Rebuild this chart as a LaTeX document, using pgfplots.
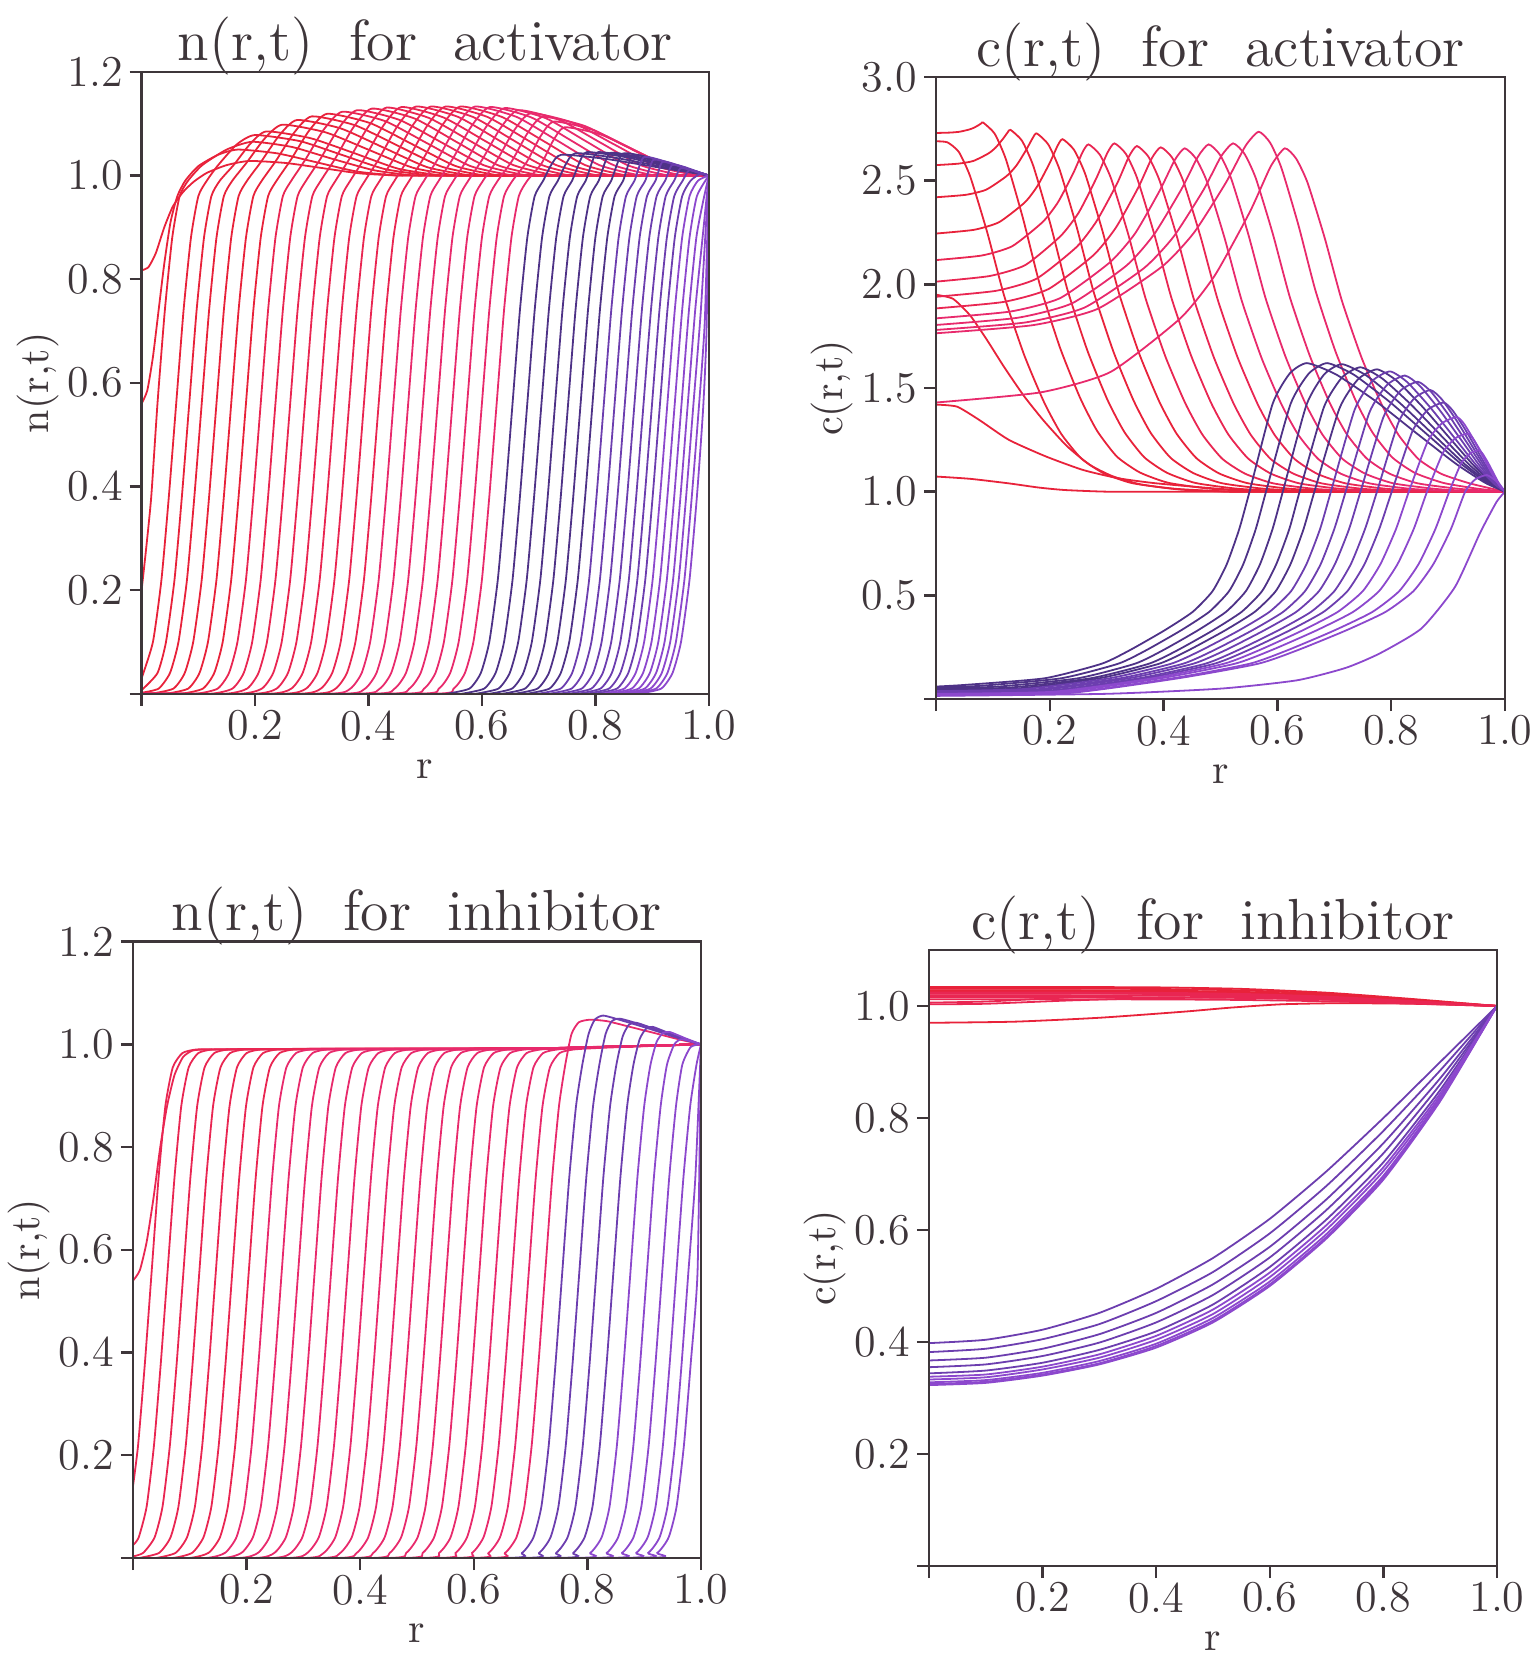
\documentclass[border=0pt]{standalone}
\usepackage{fontspec}
\usepackage{pgfplots}
\pgfplotsset{compat=1.18}
\definecolor{fr}{RGB}{62,54,58}
\definecolor{r1}{RGB}{232,34,58}
\definecolor{r2}{RGB}{233,38,82}
\definecolor{r3}{RGB}{232,42,108}
\definecolor{p1}{RGB}{78,50,135}
\definecolor{p2}{RGB}{108,62,175}
\definecolor{p3}{RGB}{140,72,205}
\newcommand\cv[1]{\addplot[#1] coordinates}
\pgfplotsset{
  panel/.style={
    scale only axis, anchor=south west,
    xmin=0, xmax=1,
    axis line style={fr, line width=0.6pt},
    every tick/.style={fr, line width=0.6pt},
    tick align=outside, major tick length=3pt,
    xtick pos=left, ytick pos=left,
    xtick={0,0.2,0.4,0.6,0.8,1},
    xticklabels={,0.2,0.4,0.6,0.8,1.0},
    tick label style={font=\fontsize{11}{13}\selectfont, text=fr},
    xticklabel style={yshift=2.4pt},
    yticklabel style={xshift=1.8pt},
    axis on top,
    every axis plot/.append style={line width=0.45pt, smooth, tension=0.35},
    title style={font=\fontsize{14.5}{16}\selectfont\addfontfeatures{LetterSpace=7.5}, text=fr, at={(0.5,1)}, anchor=base, yshift=-3.25pt, inner sep=0pt},
    every axis x label/.style={at={([yshift=-18.75pt]axis description cs:0.5,0)}, anchor=center, font=\fontsize{10.5}{12}\selectfont, text=fr},
    every axis y label/.style={at={([xshift=-26pt]axis description cs:0,0.5)}, anchor=center, rotate=90, font=\fontsize{10.5}{12}\selectfont, text=fr},
  },
}
\begin{document}
\begin{tikzpicture}
\path[use as bounding box] (0pt,0pt) rectangle (383.25pt,413.25pt);
%================ TL: n(r,t) activator
\begin{axis}[panel, at={(35.4pt,239.8pt)}, width=141.8pt, height=155.5pt,
  ymin=0, ymax=1.2, ytick={0,0.2,0.4,0.6,0.8,1.0,1.2}, yticklabels={,0.2,0.4,0.6,0.8,1.0,1.2},
  title={n(r,t)\hspace{9pt}for\hspace{9pt}activator}, xlabel={r}, ylabel={n(r,t)}]
\cv{r1}{(0,0.817)(0.012,0.823)(0.025,0.85)(0.04,0.9)(0.055,0.94)(0.073,0.968)(0.092,0.988)(0.115,1.005)(0.15,1.02)(0.19,1.028)(0.255,1.024)(0.32,1.014)(0.385,1.004)(0.45,1)(0.5,1)(1,1)};
\cv{r1}{(0,0.56)(0.01,0.585)(0.02,0.65)(0.03,0.74)(0.04,0.83)(0.051,0.91)(0.063,0.96)(0.077,0.99)(0.1,1.018)(0.135,1.04)(0.17,1.05)(0.24,1.0425)(0.31,1.025)(0.38,1.0075)(0.45,1)(0.5,1)(1,1)};
\cv{r1}{(0,0.2)(0.008,0.28)(0.017,0.38)(0.028,0.56)(0.041,0.74)(0.054,0.88)(0.067,0.96)(0.082,0.99)(0.107,1.02)(0.15,1.05)(0.195,1.065)(0.265,1.055)(0.335,1.0325)(0.41,1.01)(0.48,1)(0.53,1)(1,1)};
\cv{r1}{(0,0.03)(0.02,0.1)(0.035,0.22)(0.048,0.38)(0.061,0.56)(0.074,0.74)(0.087,0.88)(0.1,0.96)(0.115,0.99)(0.135,1.02)(0.168,1.06)(0.2,1.078)(0.28,1.066)(0.355,1.039)(0.43,1.012)(0.51,1)(0.56,1)(1,1)};
\cv{r1}{(0,0.007)(0.028,0.04)(0.043,0.1)(0.058,0.22)(0.071,0.38)(0.084,0.56)(0.097,0.74)(0.11,0.88)(0.123,0.96)(0.138,0.99)(0.163,1.021)(0.1915,1.061)(0.22,1.085)(0.2975,1.072)(0.375,1.043)(0.4525,1.013)(0.53,1)(0.58,1)(1,1)};
\cv{r1}{(0,0.002)(0.03,0.01)(0.05,0.04)(0.065,0.1)(0.08,0.22)(0.093,0.38)(0.106,0.56)(0.119,0.74)(0.132,0.88)(0.145,0.96)(0.16,0.99)(0.185,1.0245)(0.2165,1.0706)(0.248,1.098)(0.325,1.083)(0.4015,1.049)(0.478,1.015)(0.555,1)(0.605,1)(1,1)};
\cv{r1}{(0,0)(0.016,0)(0.056,0.01)(0.076,0.04)(0.091,0.1)(0.106,0.22)(0.119,0.38)(0.132,0.56)(0.145,0.74)(0.158,0.88)(0.171,0.96)(0.186,0.99)(0.211,1.027)(0.2425,1.077)(0.274,1.107)(0.3505,1.091)(0.427,1.0535)(0.5035,1.016)(0.58,1)(0.63,1)(1,1)};
\cv{r1}{(0,0)(0.042,0)(0.082,0.01)(0.102,0.04)(0.117,0.1)(0.132,0.22)(0.145,0.38)(0.158,0.56)(0.171,0.74)(0.184,0.88)(0.197,0.96)(0.212,0.99)(0.237,1.0285)(0.2685,1.082)(0.3,1.114)(0.376,1.097)(0.4525,1.057)(0.529,1.017)(0.605,1)(0.655,1)(1,1)};
\cv{r1}{(0,0)(0.068,0)(0.108,0.01)(0.128,0.04)(0.143,0.1)(0.158,0.22)(0.171,0.38)(0.184,0.56)(0.197,0.74)(0.21,0.88)(0.223,0.96)(0.238,0.99)(0.263,1.03)(0.295,1.086)(0.327,1.119)(0.403,1.101)(0.4785,1.0595)(0.554,1.018)(0.63,1)(0.68,1)(1,1)};
\cv{r2}{(0,0)(0.094,0)(0.134,0.01)(0.154,0.04)(0.169,0.1)(0.184,0.22)(0.197,0.38)(0.21,0.56)(0.223,0.74)(0.236,0.88)(0.249,0.96)(0.264,0.99)(0.289,1.031)(0.3215,1.089)(0.354,1.123)(0.429,1.105)(0.5045,1.0615)(0.58,1.018)(0.655,1)(0.705,1)(1,1)};
\cv{r2}{(0,0)(0.12,0)(0.16,0.01)(0.18,0.04)(0.195,0.1)(0.21,0.22)(0.223,0.38)(0.236,0.56)(0.249,0.74)(0.262,0.88)(0.275,0.96)(0.29,0.99)(0.315,1.0315)(0.3475,1.091)(0.38,1.126)(0.455,1.107)(0.53,1.063)(0.605,1.019)(0.68,1)(0.73,1)(1,1)};
\cv{r2}{(0,0)(0.146,0)(0.186,0.01)(0.206,0.04)(0.221,0.1)(0.236,0.22)(0.249,0.38)(0.262,0.56)(0.275,0.74)(0.288,0.88)(0.301,0.96)(0.316,0.99)(0.341,1.032)(0.3735,1.093)(0.406,1.129)(0.481,1.11)(0.5555,1.0645)(0.63,1.019)(0.705,1)(0.755,1)(1,1)};
\cv{r2}{(0,0)(0.172,0)(0.212,0.01)(0.232,0.04)(0.247,0.1)(0.262,0.22)(0.275,0.38)(0.288,0.56)(0.301,0.74)(0.314,0.88)(0.327,0.96)(0.342,0.99)(0.367,1.033)(0.3995,1.094)(0.432,1.131)(0.5065,1.111)(0.581,1.0655)(0.6555,1.02)(0.73,1)(0.78,1)(1,1)};
\cv{r2}{(0,0)(0.198,0)(0.238,0.01)(0.258,0.04)(0.273,0.1)(0.288,0.22)(0.301,0.38)(0.314,0.56)(0.327,0.74)(0.34,0.88)(0.353,0.96)(0.368,0.99)(0.393,1.033)(0.4255,1.095)(0.458,1.132)(0.532,1.112)(0.6065,1.066)(0.681,1.02)(0.755,1)(0.805,1)(1,1)};
\cv{r2}{(0,0)(0.224,0)(0.264,0.01)(0.284,0.04)(0.299,0.1)(0.314,0.22)(0.327,0.38)(0.34,0.56)(0.353,0.74)(0.366,0.88)(0.379,0.96)(0.394,0.99)(0.419,1.033)(0.4515,1.096)(0.484,1.133)(0.558,1.113)(0.632,1.0665)(0.706,1.02)(0.78,1)(0.83,1)(1,1)};
\cv{r2}{(0,0)(0.25,0)(0.29,0.01)(0.31,0.04)(0.325,0.1)(0.34,0.22)(0.353,0.38)(0.366,0.56)(0.379,0.74)(0.392,0.88)(0.405,0.96)(0.42,0.99)(0.445,1.033)(0.4775,1.096)(0.51,1.133)(0.584,1.113)(0.6575,1.0665)(0.731,1.02)(0.805,1)(0.855,1)(1,1)};
\cv{r2}{(0,0)(0.276,0)(0.316,0.01)(0.336,0.04)(0.351,0.1)(0.366,0.22)(0.379,0.38)(0.392,0.56)(0.405,0.74)(0.418,0.88)(0.431,0.96)(0.446,0.99)(0.471,1.033)(0.5035,1.096)(0.536,1.133)(0.6095,1.113)(0.683,1.0665)(0.7565,1.02)(0.83,1)(0.88,1)(1,1)};
\cv{r2}{(0,0)(0.302,0)(0.342,0.01)(0.362,0.04)(0.377,0.1)(0.392,0.22)(0.405,0.38)(0.418,0.56)(0.431,0.74)(0.444,0.88)(0.457,0.96)(0.472,0.99)(0.497,1.033)(0.5295,1.096)(0.562,1.133)(0.635,1.113)(0.7085,1.0665)(0.782,1.02)(0.855,1)(0.905,1)(1,1)};
\cv{r3}{(0,0)(0.328,0)(0.368,0.01)(0.388,0.04)(0.403,0.1)(0.418,0.22)(0.431,0.38)(0.444,0.56)(0.457,0.74)(0.47,0.88)(0.483,0.96)(0.498,0.99)(0.523,1.033)(0.5555,1.096)(0.588,1.133)(0.661,1.113)(0.734,1.0665)(0.807,1.02)(0.88,1)(0.93,1)(1,1)};
\cv{r3}{(0,0)(0.354,0)(0.394,0.01)(0.414,0.04)(0.429,0.1)(0.444,0.22)(0.457,0.38)(0.47,0.56)(0.483,0.74)(0.496,0.88)(0.509,0.96)(0.524,0.99)(0.549,1.033)(0.5815,1.095)(0.614,1.132)(0.687,1.112)(0.7595,1.066)(0.832,1.02)(0.905,1)(0.955,1)(1,1)};
\cv{r3}{(0,0)(0.38,0)(0.42,0.01)(0.44,0.04)(0.455,0.1)(0.47,0.22)(0.483,0.38)(0.496,0.56)(0.509,0.74)(0.522,0.88)(0.535,0.96)(0.55,0.99)(0.575,1.0325)(0.6075,1.094)(0.64,1.13)(0.7125,1.1105)(0.785,1.065)(0.8575,1.0195)(0.93,1)(1,1)};
\cv{r3}{(0,0)(0.406,0)(0.446,0.01)(0.466,0.04)(0.481,0.1)(0.496,0.22)(0.509,0.38)(0.522,0.56)(0.535,0.74)(0.548,0.88)(0.561,0.96)(0.576,0.99)(0.601,1.0315)(0.6325,1.091)(0.664,1.126)(0.737,1.107)(0.8095,1.063)(0.882,1.019)(0.955,1)(1,1)};
\cv{r3}{(0,0)(0.432,0)(0.472,0.01)(0.492,0.04)(0.507,0.1)(0.522,0.22)(0.535,0.38)(0.548,0.56)(0.561,0.74)(0.574,0.88)(0.587,0.96)(0.602,0.99)(0.627,1.03)(0.6565,1.0865)(0.686,1.12)(0.7595,1.102)(0.833,1.06)(0.9065,1.018)(0.98,1)(1,1)};
\cv{r3}{(0,0)(0.458,0)(0.498,0.01)(0.518,0.04)(0.533,0.1)(0.548,0.22)(0.561,0.38)(0.574,0.56)(0.587,0.74)(0.6,0.88)(0.613,0.96)(0.628,0.99)(0.653,1.028)(0.68,1.081)(0.707,1.113)(0.78,1.096)(0.8535,1.0565)(0.927,1.017)(1,1)};
\cv{r3}{(0,0)(0.484,0)(0.524,0.01)(0.544,0.04)(0.559,0.1)(0.574,0.22)(0.587,0.38)(0.6,0.56)(0.613,0.74)(0.626,0.88)(0.639,0.96)(0.654,0.99)(0.679,1.026)(0.703,1.075)(0.727,1.104)(0.795,1.088)(0.8635,1.052)(0.932,1.016)(1,1)};
\cv{r3}{(0,0)(0.51,0)(0.55,0.01)(0.57,0.04)(0.585,0.1)(0.6,0.22)(0.613,0.38)(0.626,0.56)(0.639,0.74)(0.652,0.88)(0.665,0.96)(0.68,0.99)(0.705,1.023)(0.7255,1.067)(0.746,1.093)(0.8095,1.079)(0.873,1.0465)(0.9365,1.014)(1,1)};
% purple
\cv{p1}{(0.538,0)(0.578,0.01)(0.598,0.04)(0.613,0.1)(0.628,0.22)(0.641,0.38)(0.654,0.56)(0.667,0.74)(0.68,0.88)(0.693,0.96)(0.708,0.99)(0.722,1.02)(0.74,1.04)(0.818,1.032)(0.909,1.016)(1,1)};
\cv{p1}{(0.564,0)(0.604,0.01)(0.624,0.04)(0.639,0.1)(0.654,0.22)(0.667,0.38)(0.68,0.56)(0.693,0.74)(0.706,0.88)(0.719,0.96)(0.734,0.99)(0.748,1.022)(0.765,1.043)(0.8355,1.034)(0.917,1.017)(1,1)};
\cv{p1}{(0.589,0)(0.629,0.01)(0.649,0.04)(0.664,0.1)(0.679,0.22)(0.692,0.38)(0.705,0.56)(0.718,0.74)(0.731,0.88)(0.744,0.96)(0.759,0.99)(0.772,1.025)(0.785,1.045)(0.85,1.036)(0.925,1.018)(1,1)};
\cv{p1}{(0.613,0)(0.653,0.01)(0.673,0.04)(0.688,0.1)(0.703,0.22)(0.716,0.38)(0.729,0.56)(0.742,0.74)(0.755,0.88)(0.768,0.96)(0.783,0.99)(0.794,1.025)(0.805,1.045)(0.8635,1.036)(0.932,1.018)(1,1)};
\cv{p1}{(0.636,0)(0.676,0.01)(0.696,0.04)(0.711,0.1)(0.726,0.22)(0.739,0.38)(0.752,0.56)(0.765,0.74)(0.778,0.88)(0.791,0.96)(0.806,0.99)(0.817,1.025)(0.828,1.044)(0.8795,1.035)(0.94,1.018)(1,1)};
\cv{p1}{(0.658,0)(0.698,0.01)(0.718,0.04)(0.733,0.1)(0.748,0.22)(0.761,0.38)(0.774,0.56)(0.787,0.74)(0.8,0.88)(0.813,0.96)(0.828,0.99)(0.848,1.042)(0.895,1.034)(0.947,1.017)(1,1)};
\cv{p1}{(0.679,0)(0.719,0.01)(0.739,0.04)(0.754,0.1)(0.769,0.22)(0.782,0.38)(0.795,0.56)(0.808,0.74)(0.821,0.88)(0.834,0.96)(0.849,0.99)(0.866,1.039)(0.906,1.031)(0.953,1.016)(1,1)};
\cv{p2}{(0.699,0)(0.739,0.01)(0.759,0.04)(0.774,0.1)(0.789,0.22)(0.802,0.38)(0.815,0.56)(0.828,0.74)(0.841,0.88)(0.854,0.96)(0.869,0.99)(0.885,1.035)(0.92,1.028)(0.96,1.014)(1,1)};
\cv{p2}{(0.718,0)(0.758,0.01)(0.778,0.04)(0.793,0.1)(0.808,0.22)(0.821,0.38)(0.834,0.56)(0.847,0.74)(0.86,0.88)(0.873,0.96)(0.888,0.99)(0.902,1.03)(0.93,1.024)(0.965,1.012)(1,1)};
\cv{p2}{(0.736,0)(0.776,0.01)(0.796,0.04)(0.811,0.1)(0.826,0.22)(0.839,0.38)(0.852,0.56)(0.865,0.74)(0.878,0.88)(0.891,0.96)(0.906,0.99)(0.918,1.026)(0.942,1.021)(0.971,1.01)(1,1)};
\cv{p2}{(0.753,0)(0.793,0.01)(0.813,0.04)(0.828,0.1)(0.843,0.22)(0.856,0.38)(0.869,0.56)(0.882,0.74)(0.895,0.88)(0.908,0.96)(0.923,0.99)(0.935,1.02)(0.955,1.017)(0.976,1.009)(1,1)};
\cv{p2}{(0.769,0)(0.809,0.01)(0.829,0.04)(0.844,0.1)(0.859,0.22)(0.872,0.38)(0.885,0.56)(0.898,0.74)(0.911,0.88)(0.924,0.96)(0.939,0.99)(0.95,1.014)(0.972,1.009)(1,1)};
\cv{p2}{(0.784,0)(0.824,0.01)(0.844,0.04)(0.859,0.1)(0.874,0.22)(0.887,0.38)(0.9,0.56)(0.913,0.74)(0.926,0.88)(0.939,0.96)(0.954,0.99)(0.965,1.01)(0.982,1.005)(1,1)};
\cv{p2}{(0.798,0)(0.838,0.01)(0.858,0.04)(0.873,0.1)(0.888,0.22)(0.901,0.38)(0.914,0.56)(0.927,0.74)(0.94,0.88)(0.953,0.96)(0.968,0.99)(0.985,1.003)(1,1)};
\cv{p3}{(0.811,0)(0.851,0.01)(0.871,0.04)(0.886,0.1)(0.901,0.22)(0.914,0.38)(0.927,0.56)(0.94,0.74)(0.953,0.88)(0.966,0.96)(0.981,0.99)(1,1)};
\cv{p3}{(0.824,0)(0.864,0.01)(0.884,0.04)(0.899,0.1)(0.914,0.22)(0.927,0.38)(0.94,0.56)(0.953,0.74)(0.966,0.88)(0.979,0.96)(1,1)};
\cv{p3}{(0.836,0)(0.876,0.01)(0.896,0.04)(0.911,0.1)(0.926,0.22)(0.939,0.38)(0.952,0.56)(0.965,0.74)(0.978,0.88)(0.99,0.95)(1,1)};
\cv{p3}{(0.847,0)(0.887,0.01)(0.907,0.04)(0.922,0.1)(0.937,0.22)(0.95,0.38)(0.963,0.56)(0.976,0.74)(0.989,0.88)(1,1)};
\cv{p3}{(0.857,0)(0.897,0.01)(0.917,0.04)(0.932,0.1)(0.947,0.22)(0.96,0.38)(0.973,0.56)(0.986,0.74)(1,1)};
\cv{p3}{(0.867,0)(0.907,0.01)(0.927,0.04)(0.942,0.1)(0.957,0.22)(0.97,0.38)(0.983,0.56)(0.993,0.72)(1,1)};
\cv{p3}{(0.876,0)(0.916,0.01)(0.936,0.04)(0.951,0.1)(0.966,0.22)(0.979,0.38)(0.99,0.55)(0.996,0.7)(1,1)};
\end{axis}
%================ TR: c(r,t) activator
\begin{axis}[panel, at={(234pt,238.5pt)}, width=142.25pt, height=155.5pt,
  ymin=0, ymax=3, ytick={0,0.5,1,1.5,2,2.5,3}, yticklabels={,0.5,1.0,1.5,2.0,2.5,3.0},
  title={c(r,t)\hspace{9pt}for\hspace{9pt}activator}, xlabel={r}, ylabel={c(r,t)}]
\cv{r1}{(0,1.073)(0.06,1.062)(0.128,1.04)(0.18,1.02)(0.226,1.008)(0.3,1)(0.4,1)(1,1)};
\cv{r1}{(0,1.42)(0.037,1.41)(0.076,1.346)(0.128,1.25)(0.193,1.17)(0.258,1.105)(0.32,1.065)(0.388,1.04)(0.518,1.01)(0.65,1)(0.75,1)(1,1)};
\cv{r1}{(0,1.95)(0.03,1.93)(0.06,1.85)(0.09,1.73)(0.12,1.6)(0.155,1.46)(0.19,1.34)(0.23,1.22)(0.27,1.13)(0.31,1.075)(0.36,1.035)(0.43,1.01)(0.52,1)(0.6,1)(1,1)};
\cv{r1}{(0,2.69)(0.02,2.685)(0.04,2.639)(0.06,2.521)(0.09,2.251)(0.12,1.943)(0.155,1.659)(0.19,1.431)(0.22,1.279)(0.255,1.161)(0.295,1.088)(0.345,1.041)(0.42,1.014)(0.52,1)(0.6,1)(1,1)};
\cv{r1}{(0,2.73)(0.025,2.732)(0.0415,2.736)(0.058,2.7465)(0.0664,2.755)(0.0747,2.7675)(0.0797,2.7765)(0.083,2.78)(0.103,2.727)(0.123,2.602)(0.153,2.317)(0.183,1.993)(0.218,1.694)(0.253,1.454)(0.283,1.294)(0.318,1.169)(0.358,1.093)(0.408,1.043)(0.483,1.014)(0.583,1)(0.65,1)(1,1)};
\cv{r1}{(0,2.575)(0.039,2.582)(0.0655,2.595)(0.092,2.631)(0.105,2.66)(0.118,2.703)(0.126,2.733)(0.131,2.745)(0.151,2.693)(0.171,2.571)(0.201,2.291)(0.231,1.974)(0.266,1.681)(0.301,1.445)(0.331,1.288)(0.366,1.166)(0.406,1.091)(0.456,1.042)(0.531,1.014)(0.631,1)(0.7,1)(1,1)};
\cv{r1}{(0,2.42)(0.053,2.432)(0.0885,2.457)(0.124,2.522)(0.1416,2.574)(0.159,2.651)(0.17,2.706)(0.177,2.728)(0.197,2.676)(0.217,2.555)(0.247,2.279)(0.277,1.964)(0.312,1.674)(0.347,1.441)(0.377,1.285)(0.412,1.164)(0.452,1.09)(0.502,1.041)(0.577,1.014)(0.677,1)(0.75,1)(1,1)};
\cv{r1}{(0,2.245)(0.0668,2.263)(0.111,2.30)(0.156,2.395)(0.178,2.473)(0.2,2.586)(0.2136,2.668)(0.2225,2.70)(0.2425,2.649)(0.2625,2.53)(0.2925,2.258)(0.3225,1.949)(0.3575,1.663)(0.3925,1.434)(0.4225,1.281)(0.4575,1.162)(0.4975,1.088)(0.5475,1.041)(0.6225,1.014)(0.7225,1)(0.79,1)(1,1)};
\cv{r2}{(0,2.117)(0.0804,2.139)(0.134,2.184)(0.1876,2.301)(0.2144,2.396)(0.2412,2.536)(0.2573,2.636)(0.268,2.675)(0.288,2.625)(0.308,2.508)(0.338,2.24)(0.368,1.935)(0.403,1.653)(0.438,1.427)(0.468,1.276)(0.503,1.159)(0.543,1.087)(0.593,1.04)(0.668,1.013)(0.768,1)(0.83,1)(1,1)};
\cv{r2}{(0,2.013)(0.094,2.04)(0.157,2.093)(0.219,2.233)(0.251,2.347)(0.282,2.513)(0.301,2.633)(0.3135,2.68)(0.3335,2.63)(0.3535,2.512)(0.3835,2.243)(0.4135,1.937)(0.4485,1.655)(0.4835,1.428)(0.5135,1.277)(0.5485,1.16)(0.5885,1.087)(0.6385,1.04)(0.7135,1.013)(0.8135,1)(0.88,1)(1,1)};
\cv{r2}{(0,1.94)(0.106,1.969)(0.1765,2.027)(0.247,2.18)(0.282,2.304)(0.318,2.485)(0.339,2.616)(0.353,2.667)(0.373,2.617)(0.393,2.5)(0.423,2.234)(0.453,1.93)(0.488,1.65)(0.523,1.425)(0.553,1.275)(0.588,1.158)(0.628,1.087)(0.678,1.04)(0.753,1.013)(0.853,1)(0.92,1)(1,1)};
\cv{r2}{(0,1.884)(0.1185,1.915)(0.1975,1.977)(0.2765,2.14)(0.316,2.273)(0.3555,2.467)(0.379,2.607)(0.395,2.661)(0.415,2.611)(0.435,2.495)(0.465,2.229)(0.495,1.927)(0.53,1.648)(0.565,1.424)(0.595,1.274)(0.63,1.158)(0.67,1.086)(0.72,1.04)(0.795,1.013)(0.895,1)(1,1)};
\cv{r3}{(0,1.836)(0.131,1.869)(0.2185,1.934)(0.306,2.107)(0.35,2.246)(0.393,2.451)(0.4195,2.599)(0.437,2.656)(0.457,2.606)(0.477,2.49)(0.507,2.225)(0.537,1.924)(0.572,1.646)(0.607,1.422)(0.637,1.273)(0.672,1.157)(0.712,1.086)(0.762,1.04)(0.837,1.013)(0.937,1)(1,1)};
\cv{r3}{(0,1.804)(0.144,1.839)(0.2395,1.909)(0.335,2.091)(0.383,2.24)(0.431,2.457)(0.46,2.614)(0.479,2.675)(0.499,2.625)(0.519,2.508)(0.549,2.24)(0.579,1.935)(0.614,1.653)(0.649,1.427)(0.679,1.276)(0.714,1.159)(0.754,1.087)(0.804,1.04)(0.879,1.013)(0.95,1.002)(1,1)};
\cv{r3}{(0,1.78)(0.1566,1.816)(0.261,1.888)(0.365,2.077)(0.4176,2.23)(0.47,2.455)(0.501,2.617)(0.522,2.68)(0.542,2.63)(0.562,2.512)(0.592,2.243)(0.622,1.937)(0.657,1.655)(0.692,1.428)(0.722,1.277)(0.757,1.16)(0.797,1.087)(0.847,1.04)(0.922,1.013)(1,1)};
\cv{r3}{(0,1.764)(0.17,1.803)(0.2835,1.881)(0.397,2.085)(0.4536,2.25)(0.51,2.493)(0.544,2.668)(0.567,2.736)(0.587,2.684)(0.607,2.562)(0.637,2.285)(0.667,1.969)(0.702,1.677)(0.737,1.443)(0.767,1.286)(0.802,1.165)(0.842,1.09)(0.892,1.042)(0.95,1.015)(1,1)};
\cv{r3}{(0,1.43)(0.184,1.479)(0.3065,1.577)(0.429,1.835)(0.49,2.043)(0.5517,2.35)(0.5885,2.57)(0.613,2.656)(0.633,2.606)(0.653,2.49)(0.683,2.225)(0.713,1.924)(0.748,1.646)(0.783,1.422)(0.813,1.273)(0.848,1.157)(0.888,1.086)(0.938,1.04)(1,1)};
% purple
\cv{p1}{(0,0.06)(0.051,0.068)(0.191,0.1)(0.291,0.17)(0.341,0.236)(0.401,0.33)(0.451,0.42)(0.486,0.52)(0.511,0.65)(0.533,0.82)(0.551,1.0)(0.5914,1.422)(0.6217,1.57)(0.652,1.62)(0.704,1.564)(0.774,1.434)(0.843,1.285)(0.913,1.136)(0.965,1.043)(1,1)};
\cv{p1}{(0,0.055)(0.08,0.064)(0.22,0.1)(0.32,0.17)(0.37,0.236)(0.43,0.33)(0.48,0.42)(0.515,0.52)(0.54,0.65)(0.562,0.82)(0.58,1.0)(0.623,1.422)(0.6553,1.57)(0.6875,1.62)(0.7344,1.564)(0.7969,1.434)(0.8594,1.285)(0.9219,1.136)(0.9688,1.043)(1,1)};
\cv{p1}{(0,0.05)(0.11,0.06)(0.2495,0.1)(0.3495,0.17)(0.3995,0.236)(0.4595,0.33)(0.5095,0.42)(0.5445,0.52)(0.5695,0.65)(0.5915,0.82)(0.6095,1.0)(0.651,1.418)(0.6823,1.566)(0.7135,1.615)(0.7565,1.56)(0.8138,1.431)(0.8711,1.283)(0.9284,1.135)(0.9714,1.043)(1,1)};
\cv{p1}{(0,0.045)(0.129,0.055)(0.272,0.1)(0.374,0.17)(0.425,0.236)(0.486,0.33)(0.537,0.42)(0.573,0.52)(0.598,0.65)(0.621,0.82)(0.639,1.0)(0.6818,1.408)(0.7139,1.552)(0.746,1.6)(0.7841,1.546)(0.8349,1.42)(0.8857,1.276)(0.9365,1.132)(0.9746,1.042)(1,1)};
\cv{p1}{(0,0.04)(0.14,0.05)(0.287,0.1)(0.392,0.17)(0.4445,0.236)(0.5075,0.33)(0.56,0.42)(0.597,0.52)(0.623,0.65)(0.646,0.82)(0.665,1.0)(0.709,1.401)(0.742,1.543)(0.775,1.59)(0.8088,1.537)(0.8538,1.413)(0.8988,1.271)(0.9438,1.13)(0.9775,1.041)(1,1)};
\cv{p2}{(0,0.038)(0.154,0.048)(0.305,0.1)(0.413,0.17)(0.467,0.236)(0.532,0.33)(0.586,0.42)(0.624,0.52)(0.651,0.65)(0.675,0.82)(0.694,1.0)(0.7356,1.394)(0.7668,1.534)(0.798,1.58)(0.8283,1.528)(0.8687,1.406)(0.9091,1.267)(0.9495,1.128)(0.9798,1.041)(1,1)};
\cv{p2}{(0,0.035)(0.17,0.045)(0.324,0.1)(0.434,0.17)(0.489,0.236)(0.555,0.33)(0.61,0.42)(0.6485,0.52)(0.676,0.65)(0.7,0.82)(0.72,1.0)(0.7616,1.381)(0.7928,1.515)(0.824,1.56)(0.8504,1.51)(0.8856,1.392)(0.9208,1.258)(0.956,1.123)(0.9824,1.039)(1,1)};
\cv{p2}{(0,0.033)(0.181,0.043)(0.339,0.1)(0.452,0.17)(0.509,0.236)(0.576,0.33)(0.633,0.42)(0.673,0.52)(0.701,0.65)(0.726,0.82)(0.746,1.0)(0.7864,1.36)(0.8167,1.488)(0.847,1.53)(0.87,1.482)(0.9006,1.371)(0.9312,1.244)(0.9618,1.117)(0.9847,1.037)(1,1)};
\cv{p2}{(0,0.03)(0.195,0.04)(0.357,0.1)(0.473,0.17)(0.531,0.236)(0.601,0.33)(0.659,0.42)(0.7,0.52)(0.729,0.65)(0.754,0.82)(0.775,1.0)(0.8126,1.333)(0.8408,1.451)(0.869,1.49)(0.8887,1.446)(0.9149,1.343)(0.9411,1.225)(0.9673,1.108)(0.9869,1.034)(1,1)};
\cv{p2}{(0,0.028)(0.201,0.038)(0.369,0.1)(0.489,0.17)(0.549,0.236)(0.621,0.33)(0.681,0.42)(0.723,0.52)(0.753,0.65)(0.779,0.82)(0.801,1.0)(0.8374,1.292)(0.8647,1.396)(0.892,1.43)(0.9082,1.391)(0.9298,1.301)(0.9514,1.198)(0.973,1.095)(0.9892,1.03)(1,1)};
\cv{p3}{(0,0.025)(0.206,0.035)(0.381,0.1)(0.506,0.17)(0.5685,0.236)(0.6435,0.33)(0.706,0.42)(0.75,0.52)(0.781,0.65)(0.8085,0.82)(0.831,1.0)(0.8646,1.245)(0.8898,1.331)(0.915,1.36)(0.9278,1.328)(0.9448,1.252)(0.9618,1.166)(0.9788,1.079)(0.9915,1.025)(1,1)};
\cv{p3}{(0,0.022)(0.213,0.032)(0.395,0.1)(0.525,0.17)(0.59,0.236)(0.668,0.33)(0.733,0.42)(0.7785,0.52)(0.811,0.65)(0.8396,0.82)(0.863,1.0)(0.8914,1.19)(0.9127,1.258)(0.934,1.28)(0.9439,1.255)(0.9571,1.196)(0.9703,1.129)(0.9835,1.062)(0.9934,1.02)(1,1)};
\cv{p3}{(0,0.02)(0.227,0.03)(0.416,0.1)(0.551,0.17)(0.6185,0.236)(0.6995,0.33)(0.767,0.42)(0.814,0.52)(0.848,0.65)(0.8777,0.82)(0.902,1.0)(0.9228,1.136)(0.9384,1.184)(0.954,1.2)(0.9609,1.182)(0.9701,1.14)(0.9793,1.092)(0.9885,1.044)(1,1)};
\cv{p3}{(0,0.018)(0.23,0.028)(0.426,0.1)(0.566,0.17)(0.636,0.236)(0.72,0.33)(0.79,0.42)(0.839,0.52)(0.874,0.65)(0.905,0.82)(0.93,1.0)(0.948,1.06)(0.968,1.08)(0.985,1.05)(1,1)};
\cv{p3}{(0,0.015)(0.3,0.025)(0.5,0.05)(0.634,0.09)(0.72,0.15)(0.78,0.22)(0.853,0.34)(0.912,0.54)(0.956,0.8)(0.985,0.95)(1,1)};
\end{axis}
%================ BL: n(r,t) inhibitor
\begin{axis}[panel, at={(33.25pt,23.75pt)}, width=142pt, height=154.1pt,
  ymin=0, ymax=1.2, ytick={0,0.2,0.4,0.6,0.8,1.0,1.2}, yticklabels={,0.2,0.4,0.6,0.8,1.0,1.2},
  title={n(r,t)\hspace{9pt}for\hspace{9pt}inhibitor}, xlabel={r}, ylabel={n(r,t)}]
\cv{r2}{(0,0.54)(0.012,0.56)(0.024,0.615)(0.036,0.7)(0.048,0.8)(0.06,0.88)(0.073,0.94)(0.088,0.975)(0.105,0.988)(0.13,0.99)(0.18,0.99)(0.26,0.991)(0.72,0.992)(0.86,0.996)(1,1)};
\cv{r2}{(0,0.14)(0.009,0.22)(0.021,0.38)(0.033,0.56)(0.045,0.74)(0.057,0.88)(0.07,0.955)(0.087,0.983)(0.112,0.99)(0.157,0.99)(0.227,0.991)(0.72,0.992)(0.86,0.996)(1,1)};
\cv{r2}{(0,0.025)(0.01,0.04)(0.024,0.1)(0.037,0.22)(0.049,0.38)(0.061,0.56)(0.073,0.74)(0.085,0.88)(0.098,0.955)(0.115,0.983)(0.14,0.99)(0.185,0.99)(0.255,0.991)(0.72,0.992)(0.86,0.996)(1,1)};
\cv{r2}{(0,0.003)(0.018,0.01)(0.038,0.04)(0.052,0.1)(0.065,0.22)(0.077,0.38)(0.089,0.56)(0.101,0.74)(0.113,0.88)(0.126,0.955)(0.143,0.983)(0.168,0.99)(0.213,0.99)(0.283,0.991)(0.72,0.992)(0.86,0.996)(1,1)};
\cv{r2}{(0,0)(0.011,0)(0.046,0.01)(0.066,0.04)(0.08,0.1)(0.093,0.22)(0.105,0.38)(0.117,0.56)(0.129,0.74)(0.141,0.88)(0.154,0.955)(0.171,0.983)(0.196,0.99)(0.241,0.99)(0.311,0.991)(0.72,0.992)(0.86,0.996)(1,1)};
\cv{r2}{(0,0)(0.04,0)(0.075,0.01)(0.095,0.04)(0.109,0.1)(0.122,0.22)(0.134,0.38)(0.146,0.56)(0.158,0.74)(0.17,0.88)(0.183,0.955)(0.2,0.983)(0.225,0.99)(0.27,0.99)(0.34,0.991)(0.72,0.992)(0.86,0.996)(1,1)};
\cv{r2}{(0,0)(0.069,0)(0.104,0.01)(0.124,0.04)(0.138,0.1)(0.151,0.22)(0.163,0.38)(0.175,0.56)(0.187,0.74)(0.199,0.88)(0.212,0.955)(0.229,0.983)(0.254,0.99)(0.299,0.99)(0.369,0.991)(0.72,0.992)(0.86,0.996)(1,1)};
\cv{r2}{(0,0)(0.098,0)(0.133,0.01)(0.153,0.04)(0.167,0.1)(0.18,0.22)(0.192,0.38)(0.204,0.56)(0.216,0.74)(0.228,0.88)(0.241,0.955)(0.258,0.983)(0.283,0.99)(0.328,0.99)(0.398,0.991)(0.72,0.992)(0.86,0.996)(1,1)};
\cv{r3}{(0,0)(0.127,0)(0.162,0.01)(0.182,0.04)(0.196,0.1)(0.209,0.22)(0.221,0.38)(0.233,0.56)(0.245,0.74)(0.257,0.88)(0.27,0.955)(0.287,0.983)(0.312,0.99)(0.357,0.99)(0.427,0.991)(0.72,0.992)(0.86,0.996)(1,1)};
\cv{r3}{(0,0)(0.156,0)(0.191,0.01)(0.211,0.04)(0.225,0.1)(0.238,0.22)(0.25,0.38)(0.262,0.56)(0.274,0.74)(0.286,0.88)(0.299,0.955)(0.316,0.983)(0.341,0.99)(0.386,0.99)(0.456,0.991)(0.72,0.992)(0.86,0.996)(1,1)};
\cv{r3}{(0,0)(0.185,0)(0.22,0.01)(0.24,0.04)(0.254,0.1)(0.267,0.22)(0.279,0.38)(0.291,0.56)(0.303,0.74)(0.315,0.88)(0.328,0.955)(0.345,0.983)(0.37,0.99)(0.415,0.99)(0.485,0.991)(0.72,0.992)(0.86,0.996)(1,1)};
\cv{r3}{(0,0)(0.214,0)(0.249,0.01)(0.269,0.04)(0.283,0.1)(0.296,0.22)(0.308,0.38)(0.32,0.56)(0.332,0.74)(0.344,0.88)(0.357,0.955)(0.374,0.983)(0.399,0.99)(0.444,0.99)(0.514,0.991)(0.72,0.992)(0.86,0.996)(1,1)};
\cv{r3}{(0,0)(0.243,0)(0.278,0.01)(0.298,0.04)(0.312,0.1)(0.325,0.22)(0.337,0.38)(0.349,0.56)(0.361,0.74)(0.373,0.88)(0.386,0.955)(0.403,0.983)(0.428,0.99)(0.473,0.99)(0.543,0.991)(0.72,0.992)(0.86,0.996)(1,1)};
\cv{r3}{(0,0)(0.272,0)(0.307,0.01)(0.327,0.04)(0.341,0.1)(0.354,0.22)(0.366,0.38)(0.378,0.56)(0.39,0.74)(0.402,0.88)(0.415,0.955)(0.432,0.983)(0.457,0.99)(0.502,0.99)(0.572,0.991)(0.72,0.992)(0.86,0.996)(1,1)};
\cv{r3}{(0,0)(0.301,0)(0.336,0.01)(0.356,0.04)(0.37,0.1)(0.383,0.22)(0.395,0.38)(0.407,0.56)(0.419,0.74)(0.431,0.88)(0.444,0.955)(0.461,0.983)(0.486,0.99)(0.531,0.99)(0.601,0.991)(0.72,0.992)(0.86,0.996)(1,1)};
\cv{r3}{(0,0)(0.33,0)(0.365,0.01)(0.385,0.04)(0.399,0.1)(0.412,0.22)(0.424,0.38)(0.436,0.56)(0.448,0.74)(0.46,0.88)(0.473,0.955)(0.49,0.983)(0.515,0.99)(0.56,0.99)(0.63,0.991)(0.72,0.992)(0.86,0.996)(1,1)};
\cv{r3}{(0,0)(0.359,0)(0.394,0.01)(0.414,0.04)(0.428,0.1)(0.441,0.22)(0.453,0.38)(0.465,0.56)(0.477,0.74)(0.489,0.88)(0.502,0.955)(0.519,0.983)(0.544,0.99)(0.589,0.99)(0.659,0.991)(0.75,0.993)(0.86,0.996)(1,1)};
\cv{r3}{(0,0)(0.388,0)(0.423,0.01)(0.443,0.04)(0.457,0.1)(0.47,0.22)(0.482,0.38)(0.494,0.56)(0.506,0.74)(0.518,0.88)(0.531,0.955)(0.548,0.983)(0.573,0.99)(0.618,0.99)(0.688,0.991)(0.78,0.994)(0.89,0.997)(1,1)};
\cv{r3}{(0,0)(0.417,0)(0.452,0.01)(0.472,0.04)(0.486,0.1)(0.499,0.22)(0.511,0.38)(0.523,0.56)(0.535,0.74)(0.547,0.88)(0.56,0.955)(0.577,0.983)(0.602,0.99)(0.647,0.99)(0.717,0.992)(0.81,0.995)(0.9,0.997)(1,1)};
\cv{r3}{(0,0)(0.446,0)(0.481,0.01)(0.501,0.04)(0.515,0.1)(0.528,0.22)(0.54,0.38)(0.552,0.56)(0.564,0.74)(0.576,0.88)(0.589,0.955)(0.606,0.983)(0.631,0.99)(0.676,0.99)(0.746,0.993)(0.83,0.995)(0.91,0.997)(1,1)};
\cv{r3}{(0,0)(0.475,0)(0.51,0.01)(0.53,0.04)(0.544,0.1)(0.557,0.22)(0.569,0.38)(0.581,0.56)(0.593,0.74)(0.605,0.88)(0.618,0.955)(0.635,0.983)(0.66,0.99)(0.705,0.991)(0.775,0.993)(0.86,0.996)(0.93,0.998)(1,1)};
\cv{r3}{(0,0)(0.504,0)(0.539,0.01)(0.559,0.04)(0.573,0.1)(0.586,0.22)(0.598,0.38)(0.61,0.56)(0.622,0.74)(0.634,0.88)(0.647,0.955)(0.664,0.983)(0.689,0.99)(0.734,0.992)(0.804,0.994)(0.88,0.996)(0.94,0.998)(1,1)};
\cv{r3}{(0,0)(0.533,0)(0.568,0.01)(0.588,0.04)(0.602,0.1)(0.615,0.22)(0.627,0.38)(0.639,0.56)(0.651,0.74)(0.663,0.88)(0.676,0.955)(0.693,0.983)(0.718,0.99)(0.763,0.993)(0.833,0.995)(0.91,0.997)(1,1)};
\cv{r3}{(0,0)(0.562,0)(0.597,0.01)(0.617,0.04)(0.631,0.1)(0.644,0.22)(0.656,0.38)(0.668,0.56)(0.68,0.74)(0.692,0.88)(0.705,0.955)(0.722,0.983)(0.747,0.99)(0.792,0.993)(0.862,0.996)(0.93,0.998)(1,1)};
\cv{r3}{(0,0)(0.591,0)(0.626,0.01)(0.646,0.04)(0.66,0.1)(0.673,0.22)(0.685,0.38)(0.697,0.56)(0.709,0.74)(0.721,0.88)(0.734,0.955)(0.751,0.983)(0.776,0.99)(0.821,0.993)(0.891,0.996)(0.95,0.998)(1,1)};
\cv{r3}{(0,0)(0.62,0)(0.655,0.01)(0.675,0.04)(0.689,0.1)(0.702,0.22)(0.714,0.38)(0.726,0.56)(0.738,0.74)(0.75,0.88)(0.761,0.96)(0.772,1.02)(0.785,1.043)(0.805,1.048)(0.835,1.045)(0.875,1.034)(0.918,1.022)(0.96,1.01)(1,1)};
\cv{p2}{(0,0)(0.65,0)(0.685,0.01)(0.705,0.04)(0.719,0.1)(0.732,0.22)(0.744,0.38)(0.756,0.56)(0.768,0.74)(0.78,0.88)(0.791,0.96)(0.802,1.02)(0.813,1.048)(0.828,1.056)(0.862,1.046)(0.91,1.03)(0.955,1.014)(1,1)};
\cv{p2}{(0,0)(0.68,0)(0.715,0.01)(0.735,0.04)(0.749,0.1)(0.762,0.22)(0.774,0.38)(0.786,0.56)(0.798,0.74)(0.81,0.88)(0.821,0.96)(0.832,1.02)(0.843,1.045)(0.857,1.05)(0.89,1.04)(0.93,1.025)(0.965,1.011)(1,1)};
\cv{p2}{(0,0)(0.71,0)(0.745,0.01)(0.765,0.04)(0.779,0.1)(0.792,0.22)(0.804,0.38)(0.816,0.56)(0.828,0.74)(0.84,0.88)(0.851,0.96)(0.862,1.015)(0.873,1.038)(0.886,1.042)(0.918,1.03)(0.957,1.015)(1,1)};
\cv{p2}{(0,0)(0.74,0)(0.775,0.01)(0.795,0.04)(0.809,0.1)(0.822,0.22)(0.834,0.38)(0.846,0.56)(0.858,0.74)(0.87,0.88)(0.881,0.96)(0.892,1.01)(0.903,1.03)(0.915,1.034)(0.943,1.022)(0.972,1.01)(1,1)};
\cv{p3}{(0,0)(0.77,0)(0.805,0.01)(0.825,0.04)(0.839,0.1)(0.852,0.22)(0.864,0.38)(0.876,0.56)(0.888,0.74)(0.9,0.88)(0.911,0.96)(0.922,1.005)(0.933,1.022)(0.945,1.024)(0.972,1.012)(1,1)};
\cv{p3}{(0,0)(0.799,0)(0.834,0.01)(0.854,0.04)(0.868,0.1)(0.881,0.22)(0.893,0.38)(0.905,0.56)(0.917,0.74)(0.929,0.88)(0.94,0.96)(0.953,1.0)(0.965,1.01)(0.982,1.006)(1,1)};
\cv{p3}{(0,0)(0.826,0)(0.861,0.01)(0.881,0.04)(0.895,0.1)(0.908,0.22)(0.92,0.38)(0.932,0.56)(0.944,0.74)(0.956,0.88)(0.967,0.96)(0.982,0.995)(1,1)};
\cv{p3}{(0,0)(0.851,0)(0.886,0.01)(0.906,0.04)(0.92,0.1)(0.933,0.22)(0.945,0.38)(0.957,0.56)(0.969,0.74)(0.981,0.88)(0.992,0.96)(1,1)};
\cv{p3}{(0,0)(0.872,0)(0.907,0.01)(0.927,0.04)(0.941,0.1)(0.954,0.22)(0.966,0.38)(0.978,0.56)(0.99,0.74)(1,1)};
\cv{p3}{(0,0)(0.888,0)(0.923,0.01)(0.943,0.04)(0.957,0.1)(0.97,0.22)(0.982,0.38)(0.994,0.56)(1,1)};
\end{axis}
%================ BR: c(r,t) inhibitor
\begin{axis}[panel, at={(232.25pt,21.75pt)}, width=142pt, height=154pt,
  ymin=0, ymax=1.1, ytick={0,0.2,0.4,0.6,0.8,1.0}, yticklabels={,0.2,0.4,0.6,0.8,1.0},
  title={c(r,t)\hspace{9pt}for\hspace{9pt}inhibitor}, xlabel={r}, ylabel={c(r,t)}]
\cv{r1}{(0,0.97)(0.15,0.972)(0.3,0.979)(0.45,0.99)(0.53,0.997)(0.62,1.003)(0.72,1.005)(0.85,1.004)(1,1)};
\cv{r1}{(0,1.034)(0.2,1.034)(0.4,1.0333)(0.55,1.0306)(0.7,1.0238)(0.85,1.0126)(1,1)};
\cv{r1}{(0,1.031)(0.2,1.031)(0.4,1.0304)(0.55,1.0279)(0.7,1.0217)(0.85,1.0115)(1,1)};
\cv{r1}{(0,1.028)(0.2,1.028)(0.4,1.0274)(0.55,1.0252)(0.7,1.0196)(0.85,1.0104)(1,1)};
\cv{r1}{(0,1.026)(0.2,1.026)(0.4,1.0255)(0.55,1.0234)(0.7,1.0182)(0.85,1.0096)(1,1)};
\cv{r2}{(0,1.024)(0.2,1.024)(0.4,1.0235)(0.55,1.0216)(0.7,1.0168)(0.85,1.0089)(1,1)};
\cv{r2}{(0,1.022)(0.2,1.022)(0.4,1.0216)(0.55,1.0198)(0.7,1.0154)(0.85,1.0081)(1,1)};
\cv{r2}{(0,1.019)(0.2,1.019)(0.4,1.0186)(0.55,1.0171)(0.7,1.0133)(0.85,1.007)(1,1)};
\cv{r2}{(0,1.016)(0.2,1.016)(0.4,1.0157)(0.55,1.0144)(0.7,1.0112)(0.85,1.0059)(1,1)};
\cv{r2}{(0,1.012)(0.2,1.012)(0.4,1.0118)(0.55,1.0108)(0.7,1.0084)(0.85,1.0044)(1,1)};
\cv{r2}{(0,1.006)(0.1,1.008)(0.2,1.013)(0.3,1.018)(0.45,1.02)(0.6,1.018)(0.75,1.013)(0.9,1.005)(1,1)};
\cv{r2}{(0,1.003)(0.1,1.004)(0.25,1.01)(0.4,1.014)(0.55,1.015)(0.7,1.012)(0.85,1.006)(1,1)};
% purple
\cv{p2}{(0,0.398)(0.1,0.404)(0.2,0.422)(0.3,0.452)(0.4,0.495)(0.5,0.55)(0.6,0.62)(0.7,0.705)(0.8,0.8)(0.9,0.9)(1,1)};
\cv{p2}{(0,0.382)(0.1,0.388)(0.2,0.405)(0.3,0.432)(0.4,0.473)(0.5,0.525)(0.6,0.594)(0.7,0.679)(0.8,0.777)(0.9,0.885)(1,1)};
\cv{p2}{(0,0.367)(0.1,0.372)(0.2,0.388)(0.3,0.414)(0.4,0.452)(0.5,0.503)(0.6,0.57)(0.7,0.655)(0.8,0.755)(0.9,0.871)(1,1)};
\cv{p2}{(0,0.355)(0.1,0.36)(0.2,0.375)(0.3,0.399)(0.4,0.435)(0.5,0.484)(0.6,0.551)(0.7,0.636)(0.8,0.737)(0.9,0.86)(1,1)};
\cv{p2}{(0,0.344)(0.1,0.349)(0.2,0.363)(0.3,0.386)(0.4,0.419)(0.5,0.467)(0.6,0.534)(0.7,0.619)(0.8,0.721)(0.9,0.85)(1,1)};
\cv{p3}{(0,0.338)(0.1,0.342)(0.2,0.356)(0.3,0.378)(0.4,0.411)(0.5,0.458)(0.6,0.524)(0.7,0.609)(0.8,0.712)(0.9,0.844)(1,1)};
\cv{p3}{(0,0.333)(0.1,0.337)(0.2,0.351)(0.3,0.372)(0.4,0.404)(0.5,0.45)(0.6,0.516)(0.7,0.601)(0.8,0.705)(0.9,0.839)(1,1)};
\cv{p3}{(0,0.328)(0.1,0.332)(0.2,0.345)(0.3,0.366)(0.4,0.397)(0.5,0.443)(0.6,0.508)(0.7,0.593)(0.8,0.697)(0.9,0.835)(1,1)};
\cv{p3}{(0,0.325)(0.1,0.329)(0.2,0.342)(0.3,0.362)(0.4,0.393)(0.5,0.438)(0.6,0.503)(0.7,0.588)(0.8,0.693)(0.9,0.832)(1,1)};
\cv{p3}{(0,0.323)(0.1,0.327)(0.2,0.34)(0.3,0.36)(0.4,0.39)(0.5,0.435)(0.6,0.5)(0.7,0.585)(0.8,0.69)(0.9,0.83)(1,1)};
\end{axis}
\end{tikzpicture}
\end{document}
